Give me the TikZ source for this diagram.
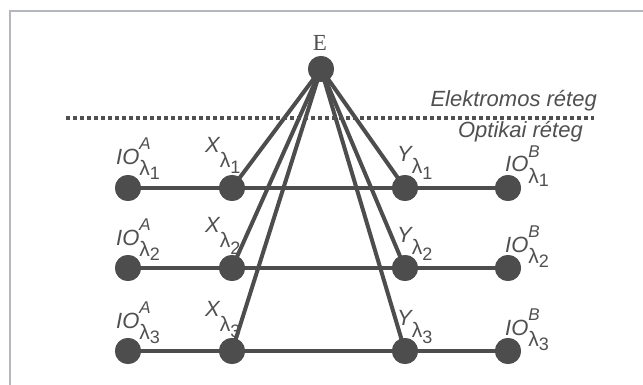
\documentclass[tikz,border=0pt]{standalone}
\usepackage{fontspec}
\setmainfont{Liberation Sans}
\newfontfamily\serifE{Liberation Serif}
\definecolor{ink}{HTML}{4D4D4D}
\definecolor{txt}{HTML}{505050}
\definecolor{framec}{HTML}{B4B8BC}
% IO labels: main, superscript, subscript digit
\newcommand{\lbl}[3]{{\fontsize{22}{22}\selectfont\itshape #1}\rlap{\raisebox{15pt}{\fontsize{17}{17}\selectfont\itshape #2}}\raisebox{-11pt}{\fontsize{21}{21}\selectfont λ\raisebox{-4pt}{\fontsize{18}{18}\selectfont #3}}}
% X / Y labels
\newcommand{\xlbl}[3]{{\fontsize{22}{22}\selectfont\itshape #1}\raisebox{-#3pt}{\fontsize{21}{21}\selectfont λ\raisebox{-6pt}{\fontsize{18}{18}\selectfont #2}}}
\begin{document}
\begin{tikzpicture}[x=1pt,y=-1pt,
  dot/.style={circle,fill=ink,minimum size=26pt,inner sep=0pt},
  link/.style={draw=ink,line width=4pt},
  lab/.style={text=txt,anchor=base west,inner sep=0pt},
  layer/.style={text=txt,anchor=base east,inner sep=0pt,font=\fontsize{22}{22}\selectfont\itshape}]
\useasboundingbox (0,0) rectangle (643,385);
\fill[white] (0,0) rectangle (643,385);
% frame
\draw[framec,line width=1.3pt] (10,385) -- (10,11) -- (643,11);
% nodes
\node[dot] (E) at (321,69) {};
\node[text=txt,font=\fontsize{23}{23}\selectfont\serifE,anchor=base] (Elab) at (320,51) {E};
\foreach \i/\y in {1/188,2/268,3/351}{
  \node[dot] (A\i) at (128,\y) {};
  \node[dot] (X\i) at (232,\y) {};
  \node[dot] (Y\i) at (405,\y) {};
  \node[dot] (B\i) at (508,\y) {};
}
% connectors
\foreach \i in {1,2,3}{
  \draw[link] (E.center) -- (X\i.center);
  \draw[link] (E.center) -- (Y\i.center);
  \draw[link] (A\i.center) -- (X\i.center) -- (Y\i.center) -- (B\i.center);
}
% dots on top of connectors
\foreach \i in {1,2,3}{
  \fill[ink] (A\i) circle (13pt);
  \fill[ink] (X\i) circle (13pt);
  \fill[ink] (Y\i) circle (13pt);
  \fill[ink] (B\i) circle (13pt);
}
\fill[ink] (E) circle (13pt);
% layer separation
\draw[txt,line width=4.5pt,dash pattern=on 4pt off 3pt] (66,118) -- (594,118);
\node[layer] (el) at (597,107) {Elektromos réteg};
\node[layer] (op) at (583,138) {Optikai réteg};
% labels
\foreach \i/\n/\yy in {1/1/188,2/2/268,3/3/351}{
  \node[lab] (la\i) at (116,\yy-23) {\lbl{IO}{A}{\n}};
  \node[lab] (lx\i) at (205,\yy-35) {\xlbl{X}{\n}{15}};
  \node[lab] (ly\i) at (397,\yy-26) {\xlbl{Y}{\n}{12}};
  \node[lab] (lb\i) at (505,\yy-16) {\lbl{IO}{B}{\n}};
}
\end{tikzpicture}
\end{document}
